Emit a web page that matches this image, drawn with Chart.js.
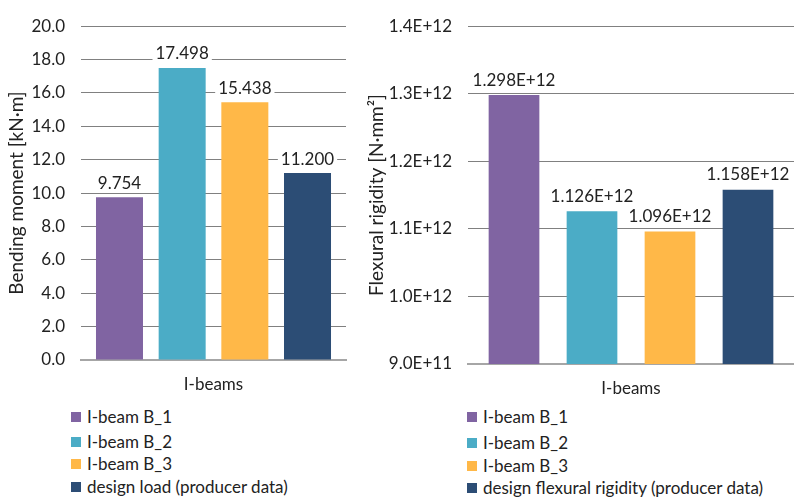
<!DOCTYPE html>
<html lang="en">
  <head>
    <meta charset="UTF-8" />
    <script src="https://cdn.jsdelivr.net/npm/chart.js"></script>
    <title>I-beams</title>
    <style>
      body {
        margin: 0;
        width: 794px;
        height: 497px;
        position: relative;
        background: #fff;
        font-family: Lato, sans-serif;
        color: #222;
        overflow: hidden;
      }
      .box {
        position: absolute;
        top: 0;
        height: 400px;
      }
      #left-box { left: 0; width: 360px; }
      #right-box { left: 360px; width: 434px; }
      .legend {
        position: absolute;
        font-size: 17px;
      }
      .legend-item {
        position: absolute;
        left: 0;
        display: flex;
        align-items: center;
        white-space: nowrap;
        line-height: 20px;
      }
      .legend-item span.sw {
        width: 10px;
        height: 10px;
        margin-right: 6px;
      }
    </style>
  </head>
  <body>
    <div class="box" id="left-box"><canvas id="chart-1"></canvas></div>
    <div class="box" id="right-box"><canvas id="chart-2"></canvas></div>
    <div class="legend" id="legend-1" style="left:71px; top:0"></div>
    <div class="legend" id="legend-2" style="left:467px; top:0"></div>
    <script>
      // data
      const categories = ['I-beams'];
      const beamNames = ['I-beam B_1', 'I-beam B_2', 'I-beam B_3'];
      const momentNames = [...beamNames, 'design load (producer data)'];
      const rigidityNames = [...beamNames, 'design flexural rigidity (producer data)'];
      const moments = [9.754, 17.498, 15.438, 11.200];
      const rigidities = [1.298e12, 1.126e12, 1.096e12, 1.158e12];
      const colors = ['#8064a2', '#4bacc6', '#ffb848', '#2c4d75'];

      const FONT = 'Lato, sans-serif';
      const TEXT = '#222';

      // value labels above the bars, on a white patch so the grid breaks
      const valueLabels = {
        id: 'valueLabels',
        afterDatasetsDraw(chart, args, opts) {
          const ctx = chart.ctx;
          ctx.save();
          ctx.font = `17px ${FONT}`;
          ctx.textAlign = 'center';
          ctx.textBaseline = 'middle';
          chart.data.datasets.forEach((ds, i) => {
            const bar = chart.getDatasetMeta(i).data[0];
            const txt = opts.format(ds.data[0]);
            const w = ctx.measureText(txt).width;
            const y = bar.y - opts.offset;
            ctx.fillStyle = '#fff';
            ctx.fillRect(bar.x - w / 2 - 3, y - 9, w + 6, 18);
            ctx.fillStyle = TEXT;
            ctx.fillText(txt, bar.x, y);
          });
          ctx.restore();
        }
      };

      function makeChart(id, names, values, opts) {
        return new Chart(document.getElementById(id), {
          type: 'bar',
          data: {
            labels: categories,
            datasets: names.map((n, i) => ({
              label: n,
              data: [values[i]],
              backgroundColor: colors[i],
              categoryPercentage: opts.cp,
              barPercentage: opts.bp,
            })),
          },
          options: {
            responsive: true,
            maintainAspectRatio: false,
            animation: false,
            layout: {
              padding: { top: opts.top, right: opts.right, left: 0, bottom: 0 },
            },
            plugins: {
              legend: { display: false },
              tooltip: { enabled: false },
              valueLabels: { format: opts.labelFormat, offset: opts.labelOffset },
            },
            scales: {
              x: {
                grid: { display: false },
                border: { display: true, color: '#a6a6a6', width: 2 },
                ticks: { color: TEXT, font: { family: FONT, size: 17 }, padding: 6 },
                afterFit(scale) { scale.height = opts.xHeight; },
              },
              y: {
                min: opts.min,
                max: opts.max,
                border: { display: false },
                grid: { color: '#808080', lineWidth: 1, drawTicks: false },
                ticks: {
                  stepSize: opts.step,
                  padding: 16,
                  color: TEXT,
                  font: { family: FONT, size: 17 },
                  callback: opts.tickFormat,
                },
                title: {
                  display: true,
                  text: opts.title,
                  color: TEXT,
                  font: { family: FONT, size: 19 },
                  padding: { top: 5, bottom: 0 },
                },
                afterFit(scale) { scale.width = opts.yWidth; },
              },
            },
          },
          plugins: [valueLabels],
        });
      }

      const sci = (v, d) => v.toExponential(d).toUpperCase();

      makeChart('chart-1', momentNames, moments, {
        cp: 0.946, bp: 0.75, top: 22, right: 14, xHeight: 40, yWidth: 81,
        min: 0, max: 20, step: 2,
        tickFormat: (v) => v.toFixed(1),
        labelFormat: (v) => v.toFixed(3),
        labelOffset: 14,
        title: 'Bending moment [kN·m]',
      });

      makeChart('chart-2', rigidityNames, rigidities, {
        cp: 0.957, bp: 0.65, top: 20, right: 0, xHeight: 36, yWidth: 108,
        min: 9e11, max: 1.4e12, step: 1e11,
        tickFormat: (v) => sci(v, 1),
        labelFormat: (v) => sci(v, 3),
        labelOffset: 15,
        title: 'Flexural rigidity [N·mm²]',
      });

      // legends, one row per series
      function renderLegend(id, names, rows) {
        const el = document.getElementById(id);
        names.forEach((n, i) => {
          const item = document.createElement('div');
          item.className = 'legend-item';
          item.style.top = `${rows[i] - 10}px`;
          const sw = document.createElement('span');
          sw.className = 'sw';
          sw.style.background = colors[i];
          const t = document.createElement('span');
          t.textContent = n;
          item.appendChild(sw);
          item.appendChild(t);
          el.appendChild(item);
        });
      }

      renderLegend('legend-1', momentNames, [417, 442, 464, 487]);
      renderLegend('legend-2', rigidityNames, [417, 443, 466, 488]);
    </script>
  </body>
</html>
